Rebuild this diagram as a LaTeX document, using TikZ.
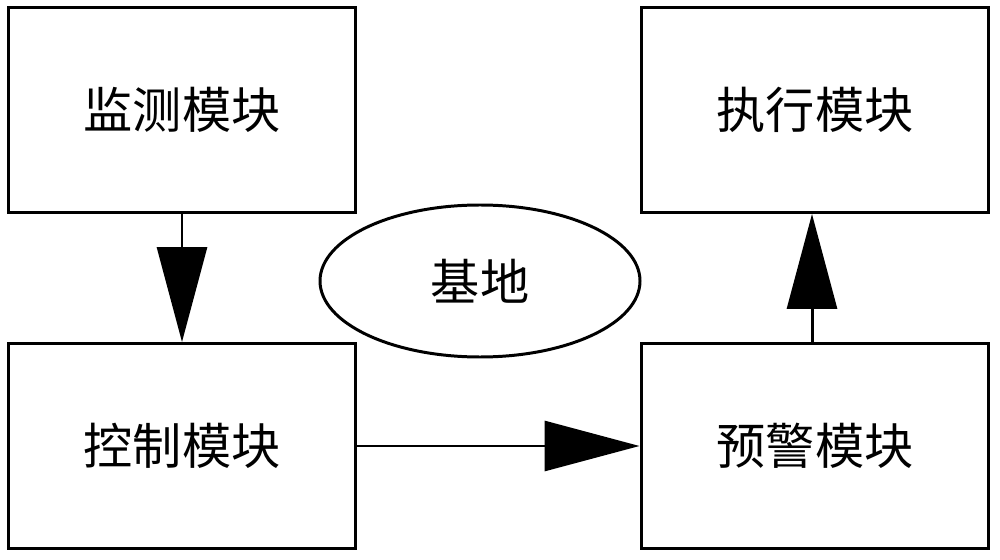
\documentclass[tikz,border=0pt]{standalone}
\usepackage{fontspec}
\newfontfamily\cjk{Noto Sans CJK SC}
\usetikzlibrary{arrows.meta,shapes.geometric}
\tikzset{
  modbox/.style={draw,line width=1.7pt,minimum width=6.96cm,minimum height=4.1cm,font=\cjk\fontsize{28}{32}\selectfont},
  bigarrow/.style={line width=1.7pt,-{Triangle[width=1cm,length=1.9cm]}}
}
\begin{document}
\begin{tikzpicture}[x=0.02cm,y=-0.02cm]
\useasboundingbox (0,0) rectangle (1000,560);
\node[modbox] (monitor) at (182,110) {监测模块};
\node[modbox] (control) at (182,446) {控制模块};
\node[modbox] (execute) at (815,110) {执行模块};
\node[modbox] (warning) at (815,446) {预警模块};
\draw[fill=white,line width=1.7pt] (480,281) ellipse [x radius=160,y radius=76];
\node[font=\cjk\fontsize{28}{32}\selectfont] (base) at (480,281) {基地};
\draw[bigarrow] (monitor.south) -- (control.north);
\draw[bigarrow] (warning.north -| 812,0) -- (execute.south -| 812,0);
\draw[bigarrow] (control.east) -- (warning.west);
\end{tikzpicture}
\end{document}
